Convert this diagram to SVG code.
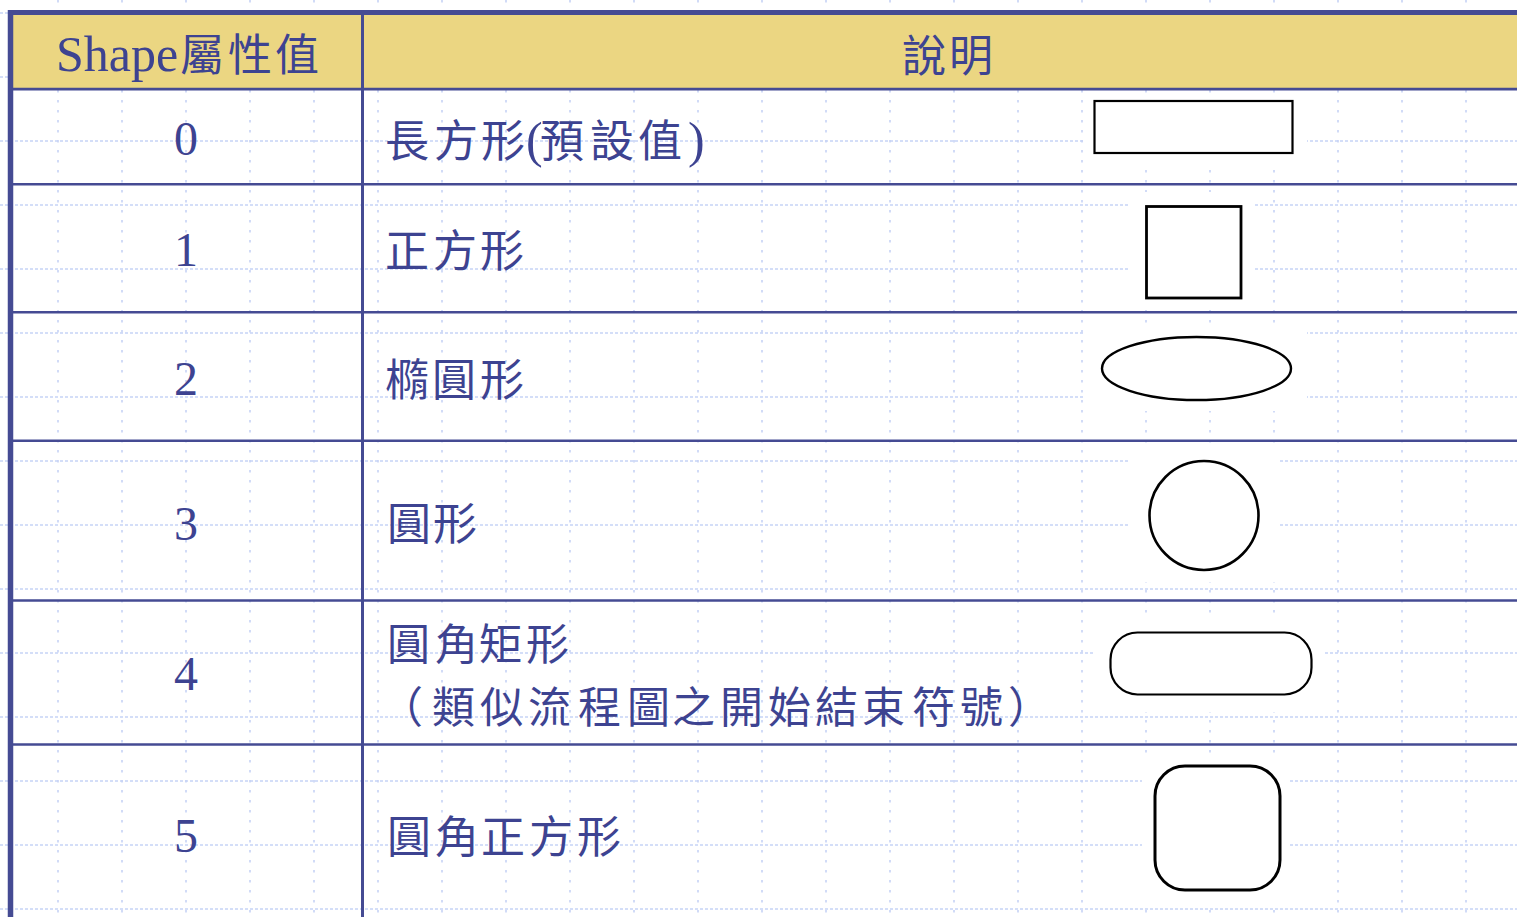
<svg xmlns="http://www.w3.org/2000/svg" width="1517" height="917" viewBox="0 0 1517 917">
  <defs>
    <style>
      .gh { stroke: #C6D3F6; stroke-width: 1.6; stroke-dasharray: 3 2; fill: none; }
      .gv { stroke: #C6D3F6; stroke-width: 1.6; stroke-dasharray: 2.5 7.5; fill: none; }
      .tb { stroke: #454B93; fill: none; }
      .num { font-family: "Liberation Serif", serif; font-size: 48px; fill: #3D4391; text-anchor: middle; }
      .cjk { font-family: "Noto Sans CJK TC", "Liberation Serif", sans-serif; font-size: 44px; fill: #3D4391; }
      .cjk2 { font-family: "Noto Sans CJK TC", "Liberation Serif", sans-serif; font-size: 43px; fill: #3D4391; }
      .lat { font-family: "Liberation Serif", serif; font-size: 50px; fill: #3D4391; }
      .shp { fill: #FFFFFF; stroke: #000000; }
      .mask { fill: #FFFFFF; stroke: none; }
    </style>
  </defs>
  <rect x="0" y="0" width="1517" height="917" fill="#FFFFFF"/>
  <g id="grid">
    <line class="gh" x1="0" y1="13" x2="1517" y2="13"/>
    <line class="gh" x1="0" y1="77" x2="1517" y2="77"/>
    <line class="gh" x1="0" y1="141" x2="1517" y2="141"/>
    <line class="gh" x1="0" y1="205" x2="1517" y2="205"/>
    <line class="gh" x1="0" y1="269" x2="1517" y2="269"/>
    <line class="gh" x1="0" y1="333" x2="1517" y2="333"/>
    <line class="gh" x1="0" y1="397" x2="1517" y2="397"/>
    <line class="gh" x1="0" y1="461" x2="1517" y2="461"/>
    <line class="gh" x1="0" y1="525" x2="1517" y2="525"/>
    <line class="gh" x1="0" y1="589" x2="1517" y2="589"/>
    <line class="gh" x1="0" y1="653" x2="1517" y2="653"/>
    <line class="gh" x1="0" y1="717" x2="1517" y2="717"/>
    <line class="gh" x1="0" y1="781" x2="1517" y2="781"/>
    <line class="gh" x1="0" y1="845" x2="1517" y2="845"/>
    <line class="gh" x1="0" y1="909" x2="1517" y2="909"/>
    <line class="gv" x1="58" y1="0" x2="58" y2="917"/>
    <line class="gv" x1="122" y1="0" x2="122" y2="917"/>
    <line class="gv" x1="186" y1="0" x2="186" y2="917"/>
    <line class="gv" x1="250" y1="0" x2="250" y2="917"/>
    <line class="gv" x1="314" y1="0" x2="314" y2="917"/>
    <line class="gv" x1="378" y1="0" x2="378" y2="917"/>
    <line class="gv" x1="442" y1="0" x2="442" y2="917"/>
    <line class="gv" x1="506" y1="0" x2="506" y2="917"/>
    <line class="gv" x1="570" y1="0" x2="570" y2="917"/>
    <line class="gv" x1="634" y1="0" x2="634" y2="917"/>
    <line class="gv" x1="698" y1="0" x2="698" y2="917"/>
    <line class="gv" x1="762" y1="0" x2="762" y2="917"/>
    <line class="gv" x1="826" y1="0" x2="826" y2="917"/>
    <line class="gv" x1="890" y1="0" x2="890" y2="917"/>
    <line class="gv" x1="954" y1="0" x2="954" y2="917"/>
    <line class="gv" x1="1018" y1="0" x2="1018" y2="917"/>
    <line class="gv" x1="1082" y1="0" x2="1082" y2="917"/>
    <line class="gv" x1="1146" y1="0" x2="1146" y2="917"/>
    <line class="gv" x1="1210" y1="0" x2="1210" y2="917"/>
    <line class="gv" x1="1274" y1="0" x2="1274" y2="917"/>
    <line class="gv" x1="1338" y1="0" x2="1338" y2="917"/>
    <line class="gv" x1="1402" y1="0" x2="1402" y2="917"/>
    <line class="gv" x1="1466" y1="0" x2="1466" y2="917"/>
  </g>
  <g id="masks">
    <rect class="mask" x="1084" y="93" width="223" height="70"/>
    <rect class="mask" x="1130" y="192" width="123" height="115"/>
    <rect class="mask" x="1084" y="325" width="223" height="86"/>
    <rect class="mask" x="1130" y="450" width="149" height="132"/>
    <rect class="mask" x="1095" y="620" width="229" height="92"/>
    <rect class="mask" x="1142" y="758" width="147" height="146"/>
  </g>
  <g id="table">
    <rect x="13" y="15" width="1504" height="73" fill="#EBD682"/>
    <line class="tb" x1="8" y1="12.5" x2="1517" y2="12.5" stroke-width="5"/>
    <line class="tb" x1="10.5" y1="10" x2="10.5" y2="917" stroke-width="5.5"/>
    <line class="tb" x1="13" y1="89.2" x2="1517" y2="89.2" stroke-width="2.8"/>
    <line class="tb" x1="362.5" y1="15" x2="362.5" y2="917" stroke-width="3"/>
    <line class="tb" x1="13" y1="184.3" x2="1517" y2="184.3" stroke-width="2.6"/>
    <line class="tb" x1="13" y1="312.2" x2="1517" y2="312.2" stroke-width="2.6"/>
    <line class="tb" x1="13" y1="440.8" x2="1517" y2="440.8" stroke-width="2.6"/>
    <line class="tb" x1="13" y1="600.5" x2="1517" y2="600.5" stroke-width="2.6"/>
    <line class="tb" x1="13" y1="744.5" x2="1517" y2="744.5" stroke-width="2.6"/>
  </g>
  <g id="header">
    <text y="71"><tspan class="lat" x="56">Shape</tspan><tspan class="cjk" x="180 228 275">屬性值</tspan></text>
    <text class="cjk" x="902 949" y="72">說明</text>
  </g>
  <g id="row0">
    <text class="num" x="186" y="155">0</text>
    <text y="157"><tspan class="cjk" x="385 434 481">長方形</tspan><tspan class="lat" x="526">(</tspan><tspan class="cjk" x="540 590 638">預設值</tspan><tspan class="lat" x="688">)</tspan></text>
    <rect class="shp" x="1094.5" y="101" width="198" height="52" stroke-width="2.2"/>
  </g>
  <g id="row1">
    <text class="num" x="186" y="266">1</text>
    <text class="cjk" x="385 433 480" y="267">正方形</text>
    <rect class="shp" x="1146.5" y="206.5" width="94.5" height="91.5" stroke-width="2.8"/>
  </g>
  <g id="row2">
    <text class="num" x="186" y="395">2</text>
    <text class="cjk" x="385 432 480" y="396">橢圓形</text>
    <ellipse class="shp" cx="1196.5" cy="368.5" rx="94.5" ry="31.5" stroke-width="2.4"/>
  </g>
  <g id="row3">
    <text class="num" x="186" y="540">3</text>
    <text class="cjk" x="387 433" y="540">圓形</text>
    <circle class="shp" cx="1204" cy="515.5" r="54.5" stroke-width="2.6"/>
  </g>
  <g id="row4">
    <text class="num" x="186" y="690">4</text>
    <text class="cjk2"><tspan x="387 435 479 526" y="660">圓角矩形</tspan><tspan x="380 432 480 528 578 627 672 720 768 815 862 912 960 1008" y="723">（類似流程圖之開始結束符號）</tspan></text>
    <rect class="shp" x="1110.5" y="632.5" width="201" height="62" rx="27" ry="27" stroke-width="2.2"/>
  </g>
  <g id="row5">
    <text class="num" x="186" y="852">5</text>
    <text class="cjk" x="387 435 481 529 577" y="853">圓角正方形</text>
    <rect class="shp" x="1155" y="766" width="125" height="124" rx="30" ry="30" stroke-width="3"/>
  </g>
</svg>
